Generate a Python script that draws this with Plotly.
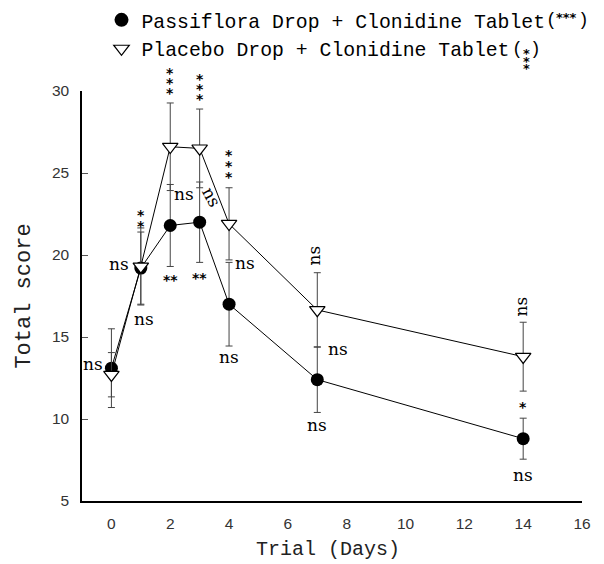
import plotly.graph_objects as go

# ---- data ----
days = [0, 1, 2, 3, 4, 7, 14]
passiflora = [13.1, 19.2, 21.8, 22.0, 17.0, 12.4, 8.8]
passiflora_err = [2.4, 2.2, 2.5, 2.45, 2.55, 2.0, 1.25]
placebo = [12.7, 19.3, 26.6, 26.5, 21.9, 16.65, 13.8]
placebo_err = [1.35, 2.35, 2.67, 2.4, 2.2, 2.27, 2.1]

x_ticks = [0, 2, 4, 6, 8, 10, 12, 14, 16]
y_ticks = [5, 10, 15, 20, 25, 30]

name_pas = "Passiflora Drop + Clonidine Tablet"
name_pla = "Placebo Drop + Clonidine Tablet"
x_title = "Trial (Days)"
y_title = "Total score"

MONO = "Liberation Mono"
SANS = "Liberation Sans"
STAR = "DejaVu Sans"
NS = "DejaVu Serif"

# The page body has an 8px default margin, so the figure is sized to fit the window.
OFF = 8
W, H = 604 - OFF, 564 - OFF
L, T, B, R = 82 - OFF, 91 - OFF, 63, 22
PW, PH = W - L - R, H - T - B
# convert window-pixel positions to paper coordinates
px = lambda x: (x - OFF - L) / PW
py = lambda y: (H - B - (y - OFF)) / PH

fig = go.Figure()

fig.add_trace(go.Scatter(
    x=days, y=passiflora, mode="lines+markers", showlegend=False,
    line=dict(color="black", width=1),
    marker=dict(symbol="circle", size=13, color="black"),
    error_y=dict(type="data", array=passiflora_err, visible=True,
                 color="#444", thickness=1, width=3.5),
))
fig.add_trace(go.Scatter(
    x=days, y=placebo, mode="lines+markers", showlegend=False,
    line=dict(color="black", width=1),
    marker=dict(symbol="triangle-down", size=13.5, color="white",
                line=dict(color="black", width=1.2)),
    error_y=dict(type="data", array=placebo_err, visible=True,
                 color="#444", thickness=1, width=3.5),
))
# legend entries (marker only)
fig.add_trace(go.Scatter(x=[None], y=[None], mode="markers", name=name_pas,
                         marker=dict(symbol="circle", size=14, color="black")))
fig.add_trace(go.Scatter(x=[None], y=[None], mode="markers", name=name_pla,
                         marker=dict(symbol="triangle-down", size=13.5, color="white",
                                     line=dict(color="black", width=1.2))))

ann = []

def txt(x, y, t, xs=0, ys=0, size=17, angle=0, xa="center", font=NS):
    ann.append(dict(x=x, y=y, xref="x", yref="y", text=t, showarrow=False,
                    xshift=xs, yshift=ys, textangle=angle, xanchor=xa, yanchor="middle",
                    font=dict(family=font, size=size, color="black")))

def stars(i, y, n, ys0, step):
    for k in range(n):
        txt(days[i], y, "<b>*</b>", ys=ys0 + k * step, size=14, font=STAR)

pt = lambda i: passiflora[i] + passiflora_err[i]
pb = lambda i: passiflora[i] - passiflora_err[i]
qt = lambda i: placebo[i] + placebo_err[i]
qb = lambda i: placebo[i] - placebo_err[i]

# day 0
txt(days[0], passiflora[0], "ns", xs=-6, ys=4, xa="right")
# day 1
stars(1, pt(1), 2, 6.5, 11)
txt(days[1], passiflora[1], "ns", xs=-10, ys=4, xa="right")
txt(days[1], pb(1), "ns", xs=3, ys=-15)
# day 2
stars(2, qt(2), 3, 9.5, 10)
txt(days[2], qb(2), "ns", xs=2, ys=-3, xa="left")
txt(days[2], pb(2), "<b>**</b>", ys=-14, size=14, font=STAR)
# day 3
stars(3, qt(3), 3, 10.5, 10)
txt(days[3], qb(3), "ns", xs=12, ys=-9, angle=62)
txt(days[3], pb(3), "<b>**</b>", ys=-15.5, size=14, font=STAR)
# day 4
stars(4, qt(4), 3, 10.5, 11)
txt(days[4], qb(4), "ns", xs=4, ys=-3, xa="left")
txt(days[4], pb(4), "ns", ys=-11)
# day 7
txt(days[5], qt(5), "ns", xs=-3, ys=17.5, angle=-90)
txt(days[5], qb(5), "ns", xs=9, ys=-2, xa="left")
txt(days[5], pb(5), "ns", ys=-12.5)
# day 14
txt(days[6], qt(6), "ns", xs=-2, ys=16, angle=-90)
txt(days[6], (qb(6) + pt(6)) / 2, "<b>*</b>", ys=-2, size=14, font=STAR)
txt(days[6], pb(6), "ns", ys=-16)

def ptxt(xp, yp, t, size, font, color="black", angle=0):
    ann.append(dict(x=px(xp), y=py(yp), xref="paper", yref="paper", showarrow=False,
                    text=t, xanchor="center", yanchor="middle", textangle=angle,
                    font=dict(family=font, size=size, color=color)))

# significance marks attached to the legend entries
ptxt(551, 20, "(", 18, MONO)
ptxt(566, 17.5, "<b>***</b>", 13, STAR)
ptxt(583, 20, ")", 18, MONO)
ptxt(517, 49, "(", 18, MONO)
ptxt(535, 49, ")", 18, MONO)
for ypx in [54, 61.5, 69]:
    ptxt(526, ypx, "<b>*</b>", 13, STAR)

# x-axis title
ptxt(82 + PW / 2 - 4, 549, x_title, 20, MONO, "#222")

fig.update_layout(
    width=W, height=H,
    margin=dict(l=L, r=R, t=T, b=B, autoexpand=False),
    paper_bgcolor="white", plot_bgcolor="white",
    annotations=ann,
    legend=dict(x=px(101.5), y=py(0.5), xanchor="left", yanchor="top",
                font=dict(family=MONO, size=19.8, color="black"),
                bgcolor="rgba(0,0,0,0)", tracegroupgap=0, itemsizing="trace"),
    xaxis=dict(range=[-1, 16], tickvals=x_ticks, showline=True, linecolor="black",
               linewidth=1.5, ticks="", showgrid=False, zeroline=False,
               ticklabelstandoff=8,
               tickfont=dict(family=SANS, size=15.5, color="#333")),
    yaxis=dict(range=[5, 30], tickvals=y_ticks, showline=True, linecolor="black",
               linewidth=1.5, ticks="inside", ticklen=6, tickcolor="#555",
               showgrid=False, zeroline=False, ticklabelstandoff=8,
               tickfont=dict(family=SANS, size=15.5, color="#333"),
               title=dict(text=y_title, standoff=15,
                          font=dict(family=MONO, size=22, color="#222"))),
)

fig.write_html("out.html")
